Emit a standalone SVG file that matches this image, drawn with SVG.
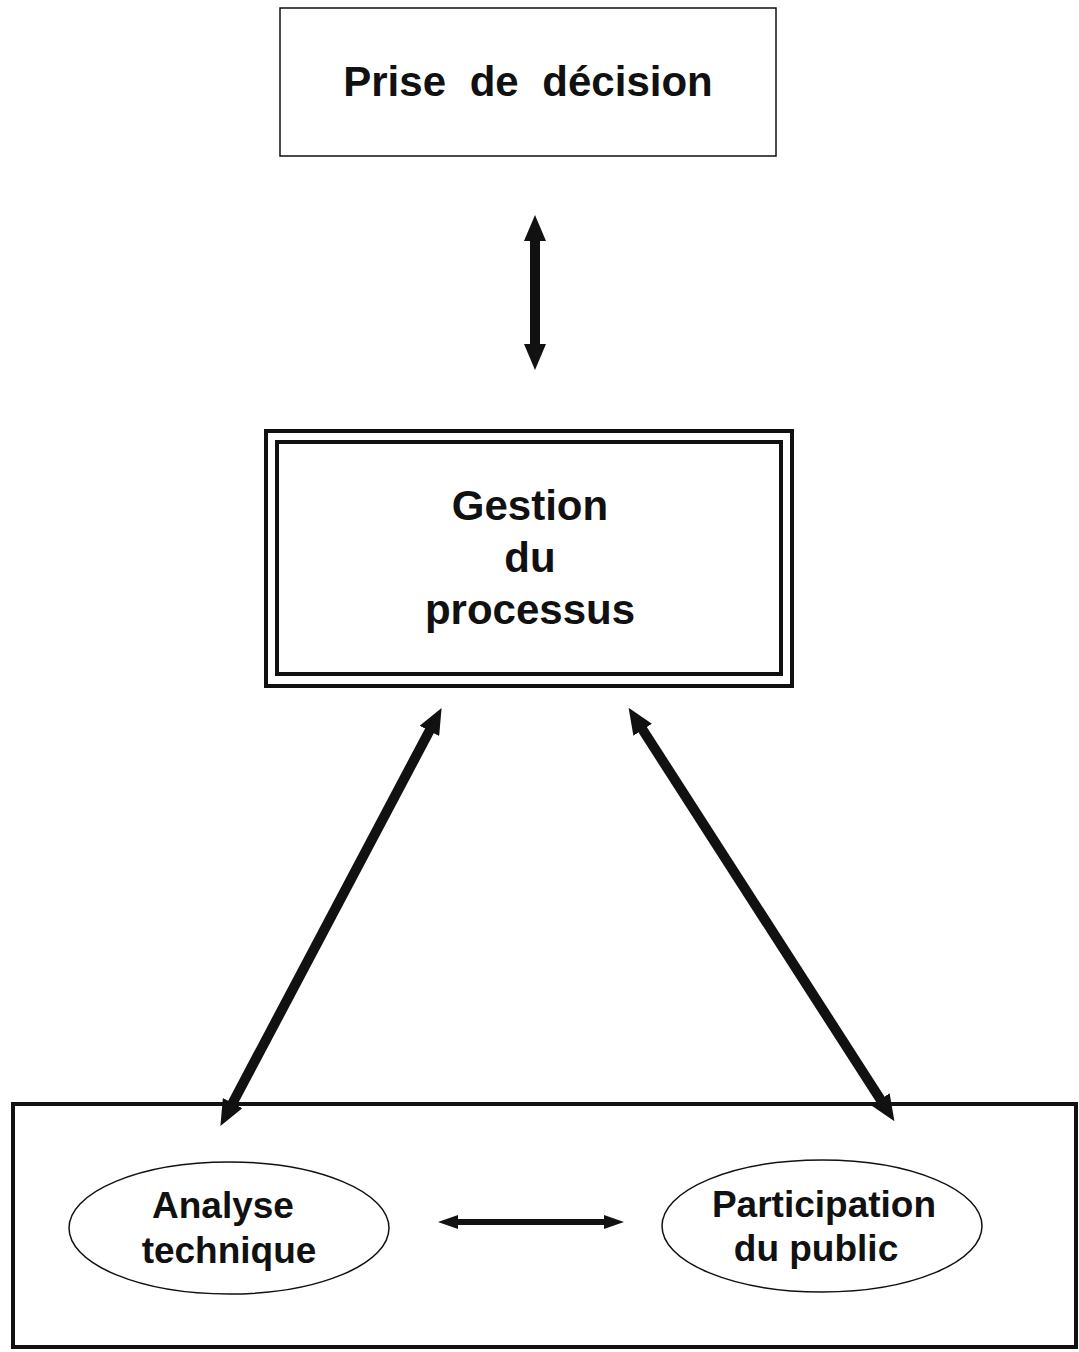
<svg xmlns="http://www.w3.org/2000/svg" width="1079" height="1352" viewBox="0 0 1079 1352">
<style>
text{font-family:"Liberation Sans",Arial,sans-serif;font-weight:bold;fill:#111;text-anchor:middle}
.t42{font-size:42px}
.t37{font-size:37px}
.box{fill:#fff;stroke:#111}
.conn{stroke:#111;fill:none}
</style>
<defs>
<marker id="big" viewBox="0 0 26 22" refX="1" refY="11" markerWidth="26" markerHeight="22" markerUnits="userSpaceOnUse" orient="auto-start-reverse">
<path d="M0,0 L26,11 L0,22 z" fill="#111"/>
</marker>
<marker id="small" viewBox="0 0 20 14" refX="1" refY="7" markerWidth="20" markerHeight="14" markerUnits="userSpaceOnUse" orient="auto-start-reverse">
<path d="M0,0 L20,7 L0,14 z" fill="#111"/>
</marker>
</defs>
<rect width="1079" height="1352" fill="#fff"/>
<g id="bottom-frame">
<rect class="box" x="13" y="1104" width="1063" height="243" stroke-width="4"/>
</g>
<g id="prise-de-decision">
<rect class="box" x="280" y="8" width="496" height="148" stroke-width="1.5" stroke="#444"/>
<text class="t42" x="528" y="96" word-spacing="12">Prise de décision</text>
</g>
<g id="gestion-du-processus">
<rect class="box" x="266" y="431" width="526" height="255" stroke-width="4"/>
<rect class="box" x="277" y="442" width="504" height="232" stroke-width="4"/>
<text class="t42" x="530" y="520">Gestion</text>
<text class="t42" x="530" y="572">du</text>
<text class="t42" x="530" y="624">processus</text>
</g>
<g id="analyse-technique">
<ellipse class="box" cx="229" cy="1228" rx="160" ry="66" stroke-width="1.5"/>
<text class="t37" x="223" y="1218">Analyse</text>
<text class="t37" x="229" y="1263">technique</text>
</g>
<g id="participation-du-public">
<ellipse class="box" cx="822" cy="1226" rx="160" ry="66" stroke-width="1.5"/>
<text class="t37" x="824" y="1217">Participation</text>
<text class="t37" x="816" y="1261">du public</text>
</g>
<g id="connectors">
<line class="conn" x1="535" y1="240" x2="535" y2="345" stroke-width="10" marker-start="url(#big)" marker-end="url(#big)"/>
<line class="conn" x1="429.9" y1="730" x2="232.1" y2="1104" stroke-width="10" marker-start="url(#big)" marker-end="url(#big)"/>
<line class="conn" x1="642.1" y1="728.9" x2="880.9" y2="1100.1" stroke-width="10" marker-start="url(#big)" marker-end="url(#big)"/>
<line class="conn" x1="457" y1="1222" x2="605" y2="1222" stroke-width="6" marker-start="url(#small)" marker-end="url(#small)"/>
</g>
</svg>
